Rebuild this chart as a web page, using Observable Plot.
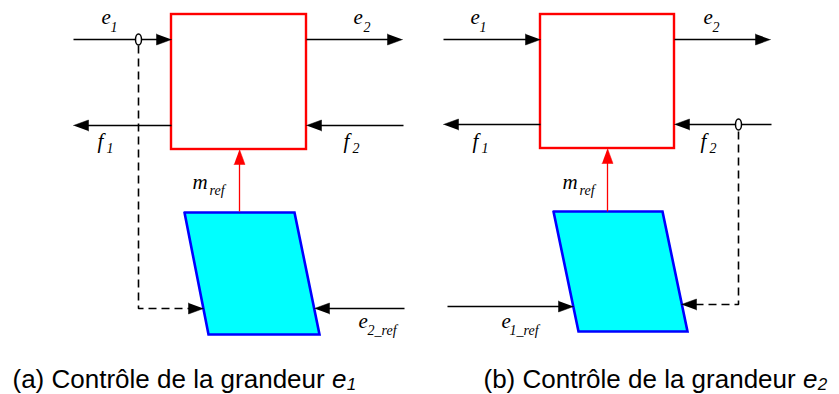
<!DOCTYPE html>
<html><head><meta charset="utf-8">
<script src="https://cdn.jsdelivr.net/npm/d3@7"></script>
<script src="https://cdn.jsdelivr.net/npm/@observablehq/plot@0.6"></script>
<style>html,body{margin:0;padding:0;background:#fff}</style>
</head><body><div id="chart"></div>
<script>
// ---- Diagram data (canvas units, y downward) ----
// Red converter blocks, panels (a) and (b)
const blockX1 = [171, 540];
const blockX2 = [306, 674];
const blockY1 = [14, 14];
const blockY2 = [149, 148];

// Cyan controller parallelograms (top edge, bottom edge)
const ctrlTopY = [212, 211];
const ctrlBotY = [334, 331];
const ctrlTopX1 = [184, 553];
const ctrlTopX2 = [294, 662];
const ctrlBotX1 = [208, 578];
const ctrlBotX2 = [319, 687];

// Solid black arrows (tail -> tip)
const arrowX1 = [73, 306, 171, 403, 404, 443, 674, 540, 771, 447];
const arrowY1 = [39, 39, 125, 125, 308, 39, 39, 124, 124, 306];
const arrowX2 = [171, 402, 73, 306, 314, 540, 770, 443, 674, 573];
const arrowY2 = [39, 39, 125, 125, 308, 39, 39, 124, 124, 306];

// Red m_ref arrows
const refX = [239, 607];
const refY1 = [211, 211];
const refY2 = [149, 148];

// Dashed measurement paths (tap -> corner -> controller)
const dashX = [[138, 138, 203], [738, 738, 681]];
const dashY = [[45, 308, 308], [131, 304, 304]];

// Measurement taps (small ellipses)
const tapX = [138, 738];
const tapY = [39, 124];

// Signal labels: base letter + subscript
const labelBase = ["e", "e", "f", "f", "m", "e", "e", "e", "f", "f", "m", "e"];
const labelSub = ["1", "2", "1", "2", "ref", "2_ref", "1", "2", "1", "2", "ref", "1_ref"];
const labelX = [101, 353, 97, 343, 192, 358, 470, 703, 472, 700, 562, 501];
const labelY = [23, 23, 147, 147, 188, 327, 23, 23, 147, 147, 188, 327];
const subX = [110, 363, 106, 352, 209, 367, 479, 712, 481, 709, 579, 509];
const subY = [31, 31, 152, 152, 194, 334, 31, 31, 152, 152, 194, 334];

// Captions
const captionText = ["(a) Contrôle de la grandeur ", "(b) Contrôle de la grandeur "];
const captionVar = ["e", "e"];
const captionSub = ["1", "2"];
const captionX = [12, 483];
const captionY = [387, 387];

// ---- Build mark data ----
const HL = 15, HW = 5.5;
function headPts(id, x1, y1, x2, y2) {
  const dx = x2 - x1, dy = y2 - y1, len = Math.hypot(dx, dy);
  const ux = dx / len, uy = dy / len;
  const bx = x2 - ux * HL, by = y2 - uy * HL;
  return {
    tri: [
      {id, x: x2, y: y2},
      {id, x: bx - uy * HW, y: by + ux * HW},
      {id, x: bx + uy * HW, y: by - ux * HW}
    ],
    bx: x2 - ux * (HL - 2), by: y2 - uy * (HL - 2)
  };
}

const blocks = blockX1.map((_, i) => ({x1: blockX1[i], x2: blockX2[i], y1: blockY1[i], y2: blockY2[i]}));

const ctrlArea = [];
const ctrlOutline = [];
ctrlTopY.forEach((_, i) => {
  ctrlArea.push({id: i, y: ctrlTopY[i], x1: ctrlTopX1[i], x2: ctrlTopX2[i]});
  ctrlArea.push({id: i, y: ctrlBotY[i], x1: ctrlBotX1[i], x2: ctrlBotX2[i]});
  ctrlOutline.push(
    {id: i, x: ctrlTopX1[i], y: ctrlTopY[i]},
    {id: i, x: ctrlTopX2[i], y: ctrlTopY[i]},
    {id: i, x: ctrlBotX2[i], y: ctrlBotY[i]},
    {id: i, x: ctrlBotX1[i], y: ctrlBotY[i]},
    {id: i, x: ctrlTopX1[i], y: ctrlTopY[i]}
  );
});

const shafts = [], heads = [];
arrowX1.forEach((_, i) => {
  const h = headPts("a" + i, arrowX1[i], arrowY1[i], arrowX2[i], arrowY2[i]);
  shafts.push({x1: arrowX1[i], y1: arrowY1[i], x2: h.bx, y2: h.by});
  heads.push(...h.tri);
});

const refShafts = [], refHeads = [];
refX.forEach((_, i) => {
  const h = headPts("r" + i, refX[i], refY1[i], refX[i], refY2[i]);
  refShafts.push({x1: refX[i], y1: refY1[i], x2: h.bx, y2: h.by});
  refHeads.push(...h.tri);
});

const dashPts = [];
dashX.forEach((xs, i) => {
  const ys = dashY[i], n = xs.length;
  const h = headPts("d" + i, xs[n - 2], ys[n - 2], xs[n - 1], ys[n - 1]);
  for (let k = 0; k < n - 1; k++) dashPts.push({id: i, x: xs[k], y: ys[k]});
  dashPts.push({id: i, x: h.bx, y: h.by});
  heads.push(...h.tri);
});

const taps = tapX.map((x, i) => ({x, y: tapY[i]}));
const ellipse = {
  draw(ctx) {
    const rx = 3, ry = 5.5, k = 0.5523;
    ctx.moveTo(rx, 0);
    ctx.bezierCurveTo(rx, ry * k, rx * k, ry, 0, ry);
    ctx.bezierCurveTo(-rx * k, ry, -rx, ry * k, -rx, 0);
    ctx.bezierCurveTo(-rx, -ry * k, -rx * k, -ry, 0, -ry);
    ctx.bezierCurveTo(rx * k, -ry, rx, -ry * k, rx, 0);
    ctx.closePath();
  }
};

const labels = labelBase.map((t, i) => ({t, x: labelX[i], y: labelY[i]}));
const subs = labelSub.map((t, i) => ({t, x: subX[i], y: subY[i]}));

const CAP_FONT = 26, CAP_SUB = 17, CAP_FAMILY = "Liberation Sans";
const cnv = document.createElement("canvas").getContext("2d");
function textW(s, style, size) { cnv.font = `${style} ${size}px '${CAP_FAMILY}'`; return cnv.measureText(s).width; }
const caps = captionText.map((t, i) => ({t, x: captionX[i], y: captionY[i]}));
const capVars = captionVar.map((t, i) => ({t, x: captionX[i] + textW(captionText[i], "normal", CAP_FONT), y: captionY[i]}));
const capSubs = captionSub.map((t, i) => ({t, x: capVars[i].x + textW(captionVar[i], "italic", CAP_FONT) + 0.5, y: captionY[i] + 2}));

const serif = "'Liberation Serif', 'Times New Roman', 'DejaVu Serif', serif";

const chart = Plot.plot({
  width: 839, height: 394, margin: 0,
  style: {background: "#fff"},
  x: {domain: [0, 839], range: [0, 839], axis: null},
  y: {domain: [0, 394], range: [0, 394], axis: null},
  marks: [
    Plot.areaX(ctrlArea, {y: "y", x1: "x1", x2: "x2", z: "id", fill: "#00ffff", curve: "linear"}),
    Plot.line(ctrlOutline, {x: "x", y: "y", z: "id", stroke: "#0000ff", strokeWidth: 2.6, strokeLinejoin: "miter", strokeMiterlimit: 10, curve: "linear"}),
    Plot.rect(blocks, {x1: "x1", x2: "x2", y1: "y1", y2: "y2", fill: "none", stroke: "#ff0000", strokeWidth: 2.4}),
    Plot.link(shafts, {x1: "x1", y1: "y1", x2: "x2", y2: "y2", stroke: "#000", strokeWidth: 1.6, strokeLinecap: "butt"}),
    Plot.line(dashPts, {x: "x", y: "y", z: "id", stroke: "#000", strokeWidth: 1.6, strokeDasharray: "8,5", strokeLinecap: "butt", strokeLinejoin: "miter", curve: "linear"}),
    Plot.line(heads, {x: "x", y: "y", z: "id", fill: "#000", stroke: "#000", strokeWidth: 0.5, curve: "linear"}),
    Plot.link(refShafts, {x1: "x1", y1: "y1", x2: "x2", y2: "y2", stroke: "#ff0000", strokeWidth: 1.3, strokeLinecap: "butt"}),
    Plot.line(refHeads, {x: "x", y: "y", z: "id", fill: "#ff0000", stroke: "#ff0000", strokeWidth: 0.5, curve: "linear"}),
    Plot.dot(taps, {x: "x", y: "y", symbol: ellipse, fill: "#fff", stroke: "#000", strokeWidth: 1.5}),
    Plot.text(labels, {x: "x", y: "y", text: "t", textAnchor: "start", lineAnchor: "bottom", fontFamily: serif, fontStyle: "italic", fontSize: 21, fill: "#000"}),
    Plot.text(subs, {x: "x", y: "y", text: "t", textAnchor: "start", lineAnchor: "bottom", fontFamily: serif, fontStyle: "italic", fontSize: 14, fill: "#000"}),
    Plot.text(caps, {x: "x", y: "y", text: "t", textAnchor: "start", lineAnchor: "bottom", fontFamily: CAP_FAMILY, fontSize: CAP_FONT, fill: "#000"}),
    Plot.text(capVars, {x: "x", y: "y", text: "t", textAnchor: "start", lineAnchor: "bottom", fontFamily: CAP_FAMILY, fontStyle: "italic", fontSize: CAP_FONT, fill: "#000"}),
    Plot.text(capSubs, {x: "x", y: "y", text: "t", textAnchor: "start", lineAnchor: "bottom", fontFamily: CAP_FAMILY, fontStyle: "italic", fontSize: CAP_SUB, fill: "#000"})
  ]
});
document.getElementById("chart").appendChild(chart);
</script>
</body></html>
